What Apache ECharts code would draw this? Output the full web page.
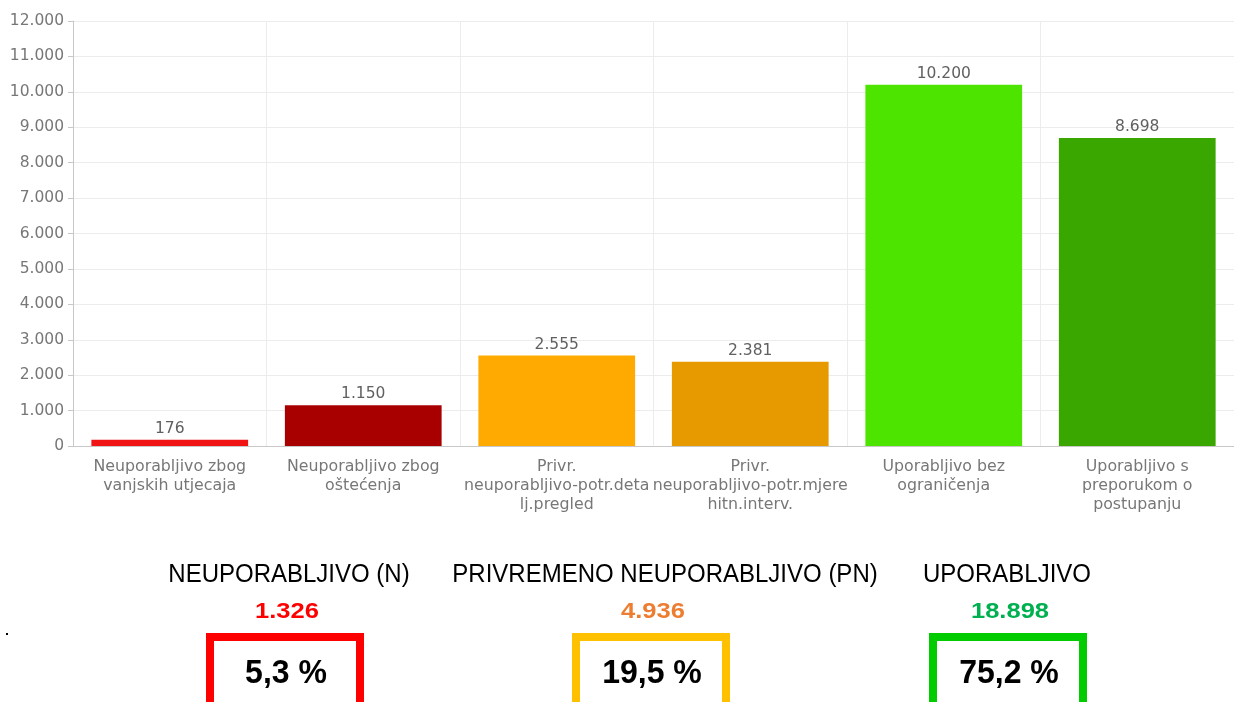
<!DOCTYPE html>
<html>
<head>
<meta charset="utf-8">
<script src="https://cdn.jsdelivr.net/npm/echarts@6/dist/echarts.min.js"></script>
<style>
  html, body { margin: 0; padding: 0; background: #fff; }
  #chart { width: 1234px; height: 702px; }
</style>
</head>
<body>
<div id="chart"></div>
<script>
// Stanje pregledanih objekata po kategoriji uporabljivosti
const categories = [
  'Neuporabljivo zbog\nvanjskih utjecaja',
  'Neuporabljivo zbog\noštećenja',
  'Privr.\nneuporabljivo-potr.deta\nlj.pregled',
  'Privr.\nneuporabljivo-potr.mjere\nhitn.interv.',
  'Uporabljivo bez\nograničenja',
  'Uporabljivo s\npreporukom o\npostupanju'
];
const counts = [176, 1150, 2555, 2381, 10200, 8698];
const barColors = ['#F01414', '#A80000', '#FFAA00', '#E69A00', '#4DE500', '#3AA600'];

// Zbirne skupine (indeksi stupaca koji pripadaju skupini)
const groupNames = ['NEUPORABLJIVO (N)', 'PRIVREMENO NEUPORABLJIVO (PN)', 'UPORABLJIVO'];
const groupMembers = [[0, 1], [2, 3], [4, 5]];
const groupShares = ['5,3 %', '19,5 %', '75,2 %'];
const groupTotalColors = ['#FF0000', '#ED7D31', '#00B050'];
const groupBoxColors = ['#FF0000', '#FFC000', '#00CC00'];
const groupCenters = [285, 651, 1008];
const titleCenters = [289, 665, 1007];

const fmt = v => String(v).replace(/\B(?=(\d{3})+(?!\d))/g, '.');

const chartFont = '"DejaVu Sans", "Open Sans", sans-serif';
const boxFont = '"Liberation Sans", Arial, sans-serif';

// Tekst s vodoravnim skaliranjem
function scaledText(x, y, text, font, fill, sx) {
  return {
    type: 'text', x: x, y: y, scaleX: sx, scaleY: 1,
    style: { text: text, fill: fill, font: font, textAlign: 'center', textVerticalAlign: 'middle' }
  };
}

const graphics = [];
groupNames.forEach((name, i) => {
  const cx = groupCenters[i];
  const total = groupMembers[i].reduce((s, k) => s + counts[k], 0);
  graphics.push(scaledText(titleCenters[i], 575, name, '25px ' + boxFont, '#000', 0.96));
  graphics.push(scaledText(cx + 2, 612, fmt(total), 'bold 22px ' + boxFont, groupTotalColors[i], 1.16));
  graphics.push({
    type: 'rect', shape: { x: cx - 75, y: 637, width: 150, height: 90 },
    style: { fill: '#fff', stroke: groupBoxColors[i], lineWidth: 8 }
  });
  graphics.push(scaledText(cx + 1, 674, groupShares[i], 'bold 33px ' + boxFont, '#000', 0.97));
});
graphics.push({ type: 'rect', shape: { x: 6, y: 633, width: 2, height: 2 }, style: { fill: '#000' } });

const chart = echarts.init(document.getElementById('chart'), null, { renderer: 'canvas' });
chart.setOption({
  animation: false,
  backgroundColor: '#fff',
  textStyle: { fontFamily: chartFont },
  grid: { left: 73, right: -9, top: 21, bottom: 256, containLabel: false },
  xAxis: {
    type: 'category',
    data: categories,
    axisLine: { show: true, lineStyle: { color: '#c8c8c8', width: 1 } },
    axisTick: { show: false },
    splitLine: { show: true, lineStyle: { color: '#ececec', width: 1 } },
    axisLabel: {
      interval: 0, color: '#777777', fontSize: 15.8, lineHeight: 19, margin: 11,
      fontFamily: chartFont
    }
  },
  yAxis: {
    type: 'value',
    min: 0, max: 12000, interval: 1000,
    axisLine: { show: true, lineStyle: { color: '#c8c8c8', width: 1 } },
    axisTick: { show: true, length: 5, lineStyle: { color: '#c8c8c8' } },
    splitLine: { show: true, lineStyle: { color: '#ececec', width: 1 } },
    axisLabel: { color: '#777777', fontSize: 15.5, margin: 9, formatter: v => fmt(v), fontFamily: chartFont }
  },
  series: [{
    type: 'bar',
    data: counts.map((v, i) => ({ value: v, itemStyle: { color: barColors[i] } })),
    barCategoryGap: '19%',
    label: {
      show: true, position: 'top', distance: 3, color: '#606060', fontSize: 15.5,
      fontFamily: chartFont, formatter: p => fmt(p.value)
    }
  }],
  graphic: graphics
});
</script>
</body>
</html>
